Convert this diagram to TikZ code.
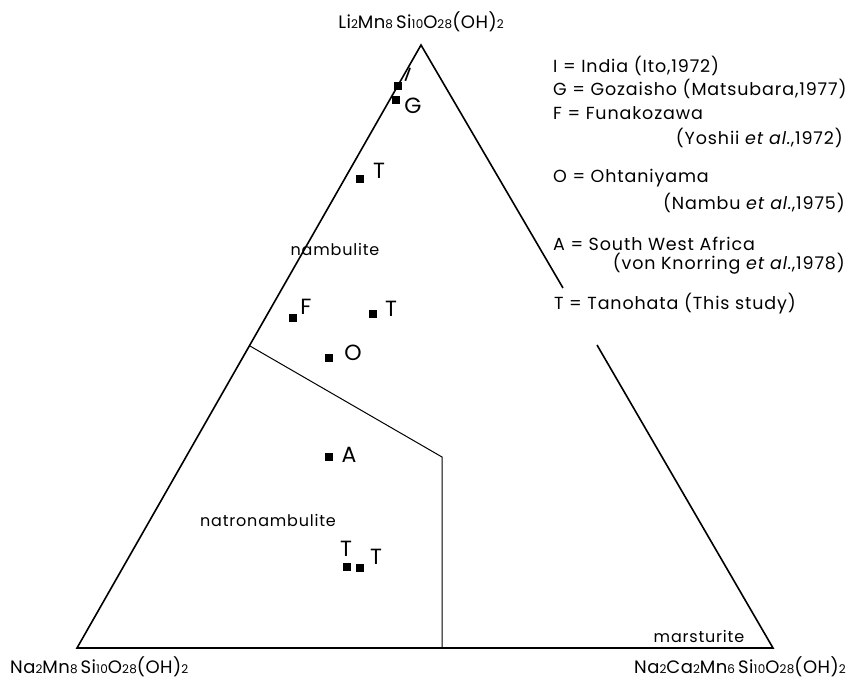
\documentclass[tikz,border=0pt]{standalone}
\usepackage{fontspec}
\setmainfont{Poppins}
\newfontfamily\keyfont[LetterSpace=5]{Poppins}
\newfontfamily\formfont[LetterSpace=3]{Poppins}
\usetikzlibrary{positioning}
\newcommand{\dg}[1]{{\fontsize{12}{12}\selectfont #1}}
\newcommand{\etal}{\textit{et al.}}

\begin{document}
\begin{tikzpicture}[x=1pt,y=-1pt,
    sample/.style={fill,inner sep=0pt,minimum size=7.5pt},
    tag/.style={font=\fontsize{22}{22}\selectfont,inner sep=0pt},
    field/.style={font=\keyfont\fontsize{16}{16}\selectfont,inner sep=0pt},
    key/.style={font=\keyfont\fontsize{17.5}{17.5}\selectfont,anchor=west,inner sep=0pt},
    ref/.style={font=\keyfont\fontsize{17.5}{17.5}\selectfont,anchor=east,inner sep=0pt},
    member/.style={font=\formfont\fontsize{18}{18}\selectfont,inner sep=0pt}]
  \useasboundingbox (0,0) rectangle (851,681);
  % corners of the triangle
  \coordinate (L) at (77,648);
  \coordinate (R) at (773,648);
  \coordinate (top) at (421,45);
  \coordinate (gapA) at (563,288);
  \coordinate (gapB) at (597,345);
  \draw[line width=1.6pt] (gapA) -- (top) -- (L) -- (R) -- (gapB);
  % field boundaries
  \coordinate (b1) at (250,346);
  \coordinate (b2) at (442,457);
  \coordinate (b3) at (442,648);
  \draw[line width=1pt] (b1) -- (b2) -- (b3);
  % end members
  \node[member] (mTop) at (421,22) {Li\dg{2}Mn\dg{8}\,Si\dg{10}O\dg{28}(OH)\dg{2}};
  \node[member,anchor=west] (mL) at (10,667) {Na\dg{2}Mn\dg{8}\,Si\dg{10}O\dg{28}(OH)\dg{2}};
  \node[member,anchor=east] (mR) at (846,667) {Na\dg{2}Ca\dg{2}Mn\dg{6}\,Si\dg{10}O\dg{28}(OH)\dg{2}};
  % fields
  \node[field] (fN) at (335,249) {nambulite};
  \node[field] (fNa) at (268,520) {natronambulite};
  \node[field] (fM) at (699,636) {marsturite};
  % samples
  \node[sample] (pI) at (398,86) {};
  \node[tag,rotate=-20,font=\fontsize{20}{20}\selectfont] (lI) at (408,75) {I};
  \node[sample] (pG) at (396,100) {};
  \node[tag] (lG) at (413,106) {G};
  \node[sample] (pT1) at (360,179) {};
  \node[tag] (lT1) at (379,171) {T};
  \node[sample] (pF) at (293,318) {};
  \node[tag] (lF) at (306,307) {F};
  \node[sample] (pT2) at (373,314) {};
  \node[tag] (lT2) at (391,309) {T};
  \node[sample] (pO) at (329,358) {};
  \node[tag] (lO) at (353,353) {O};
  \node[sample] (pA) at (329,457) {};
  \node[tag] (lA) at (349,455) {A};
  \node[sample] (pT3) at (347,567) {};
  \node[tag] (lT3) at (346,549) {T};
  \node[sample] (pT4) at (360,568) {};
  \node[tag] (lT4) at (376,557) {T};
  % key
  \node[key] (kI) at (553,66) {I = India (Ito,1972)};
  \node[key] (kG) at (553,89) {G = Gozaisho (Matsubara,1977)};
  \node[key] (kF) at (553,113) {F = Funakozawa};
  \node[ref] (rF) at (843,138) {(Yoshii \etal,1972)};
  \node[key] (kO) at (553,178) {O = Ohtaniyama};
  \node[ref] (rO) at (845,203) {(Nambu \etal,1975)};
  \node[key] (kA) at (553,244) {A = South West Africa};
  \node[ref] (rA) at (845,264) {(von Knorring \etal,1978)};
  \node[key] (kT) at (554,304) {T = Tanohata (This study)};
\end{tikzpicture}
\end{document}
